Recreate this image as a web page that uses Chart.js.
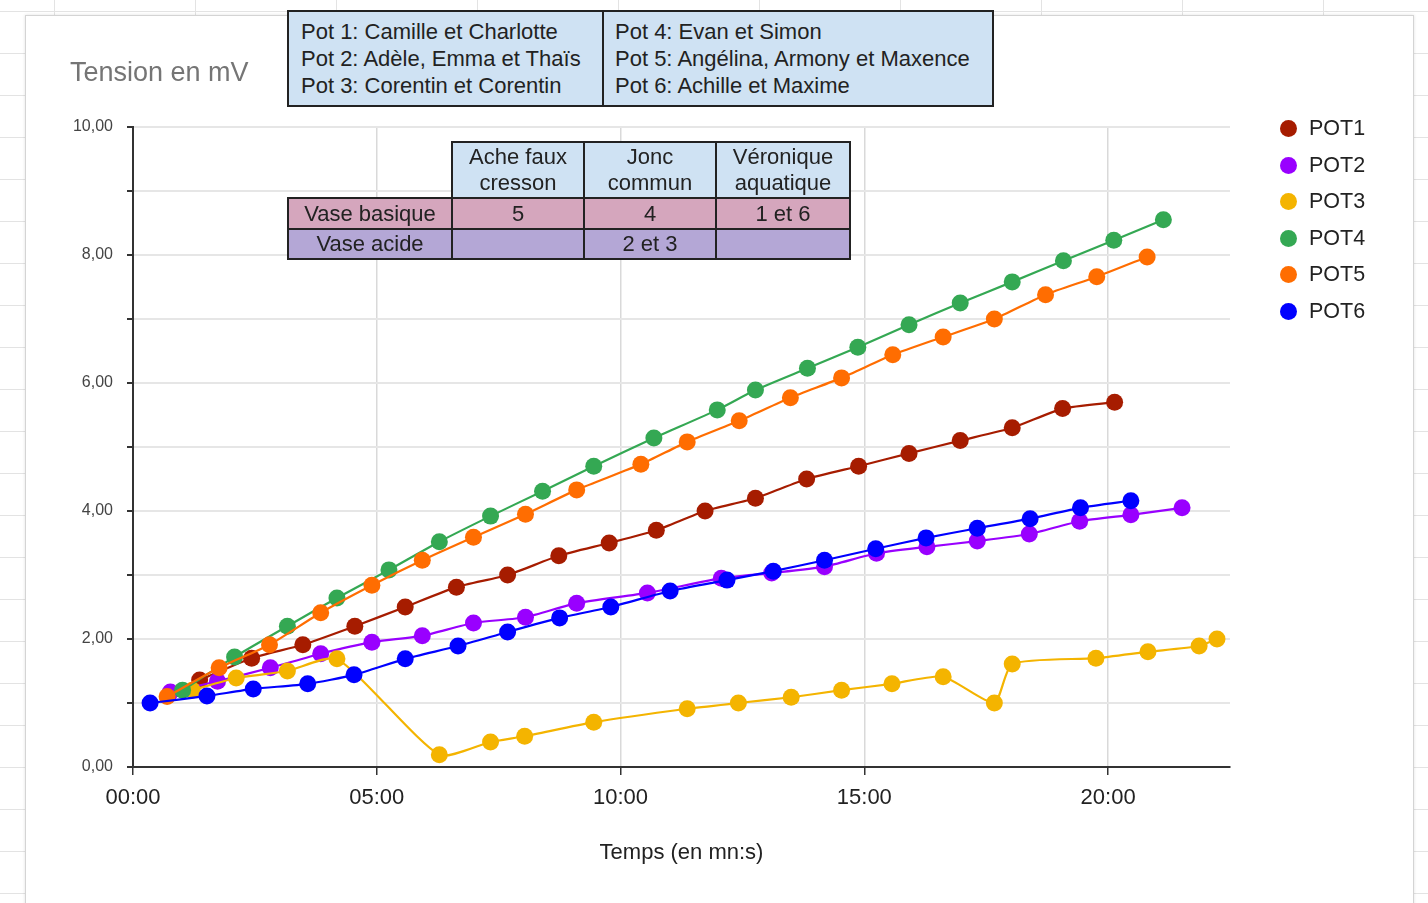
<!DOCTYPE html>
<html lang="fr">
<head>
<meta charset="UTF-8">
<title>Tension en mV</title>
<script src="https://cdn.jsdelivr.net/npm/chart.js@4.4.1/dist/chart.umd.min.js"></script>
<style>
    body {
        margin: 0;
        width: 1428px;
        height: 903px;
        overflow: hidden;
        position: relative;
        font-family: 'Liberation Sans', Arial, sans-serif;
        color: #222;
        background-color: #fff;
        background-image:
            repeating-linear-gradient(to right, transparent 0 54px, #e3e3e3 54px 55px, transparent 55px 141px),
            repeating-linear-gradient(to bottom, transparent 0 11px, #e3e3e3 11px 12px, transparent 12px 42px);
    }
    #box {
        position: absolute;
        left: 25px;
        top: 15px;
        width: 1387px;
        height: 900px;
        background: #fff;
        border: 1px solid #d4d4d4;
        box-shadow: 0 0 3px rgba(0,0,0,0.12);
    }
    #chart {
        position: absolute;
        left: 0;
        top: 0;
        z-index: 1;
    }
    #yTitle {
        position: absolute;
        left: 70px;
        top: 57px;
        font-size: 27px;
        color: #757575;
        z-index: 2;
    }
    table {
        position: absolute;
        border-collapse: collapse;
        font-size: 22px;
        color: #222;
        z-index: 2;
    }
    #pots {
        left: 287px;
        top: 10px;
        width: 707px;
        height: 97px;
        background: #cfe2f3;
        border: 2px solid #222;
    }
    #pots td {
        vertical-align: middle;
        line-height: 27px;
        padding: 0 0 0 12px;
        white-space: nowrap;
    }
    #pots td + td {
        border-left: 2px solid #222;
        padding-left: 11px;
    }
    #vases {
        left: 287px;
        top: 141px;
    }
    #vases td {
        border: 2px solid #222;
        text-align: center;
        padding: 0;
    }
    #vases tr.head td { height: 54px; line-height: 26px; background: #cfe2f3; }
    #vases tr.head td.blank { border: none; border-bottom: 2px solid #222; background: transparent; }
    #vases tr.basique td { height: 29px; line-height: 29px; background: #d5a6bd; }
    #vases tr.acide td { height: 28px; line-height: 28px; background: #b4a7d6; }
    #legend {
        position: absolute;
        left: 1280px;
        top: 110px;
        z-index: 2;
        font-size: 21.5px;
    }
    #legend div {
        height: 36.6px;
        line-height: 36.6px;
        white-space: nowrap;
    }
    #legend span {
        display: inline-block;
        width: 17px;
        height: 17px;
        border-radius: 50%;
        vertical-align: -2px;
        margin-right: 12px;
    }
</style>
</head>
<body>
<div id="box"></div>
<canvas id="chart" width="1428" height="903"></canvas>
<div id="yTitle">Tension en mV</div>

<table id="pots">
    <tr>
        <td style="width:301px">Pot 1: Camille et Charlotte<br>Pot 2: Adèle, Emma et Thaïs<br>Pot 3: Corentin et Corentin</td>
        <td>Pot 4: Evan et Simon<br>Pot 5: Angélina, Armony et Maxence<br>Pot 6: Achille et Maxime</td>
    </tr>
</table>

<table id="vases">
    <tr class="head">
        <td class="blank" style="width:163px"></td>
        <td style="width:130px">Ache faux<br>cresson</td>
        <td style="width:130px">Jonc<br>commun</td>
        <td style="width:132px">Véronique<br>aquatique</td>
    </tr>
    <tr class="basique">
        <td>Vase basique</td><td>5</td><td>4</td><td>1 et 6</td>
    </tr>
    <tr class="acide">
        <td>Vase acide</td><td></td><td>2 et 3</td><td></td>
    </tr>
</table>

<div id="legend"></div>

<script>
// temps en secondes, tension en mV
const pot1Time = [82, 146, 209, 273, 335, 398, 461, 524, 586, 644, 704, 766, 829, 893, 955, 1018, 1082, 1144, 1208];
const pot1Val  = [1.36, 1.70, 1.91, 2.20, 2.50, 2.81, 3.00, 3.30, 3.50, 3.70, 4.00, 4.20, 4.50, 4.70, 4.90, 5.10, 5.30, 5.60, 5.70];

const pot2Time = [46, 104, 169, 231, 294, 356, 419, 483, 546, 633, 724, 786, 851, 915, 977, 1039, 1103, 1165, 1228, 1291];
const pot2Val  = [1.17, 1.34, 1.55, 1.77, 1.95, 2.05, 2.25, 2.34, 2.56, 2.72, 2.95, 3.03, 3.13, 3.34, 3.44, 3.53, 3.64, 3.84, 3.94, 4.05];

const pot3Time = [73, 127, 190, 251, 377, 440, 482, 567, 682, 745, 810, 872, 934, 997, 1060, 1082, 1185, 1249, 1312, 1334];
const pot3Val  = [1.20, 1.39, 1.50, 1.69, 0.19, 0.39, 0.48, 0.70, 0.91, 1.00, 1.09, 1.20, 1.30, 1.41, 1.00, 1.61, 1.70, 1.80, 1.89, 2.00];

const pot4Time = [61, 125, 190, 251, 315, 377, 440, 504, 567, 641, 719, 766, 830, 892, 955, 1018, 1082, 1145, 1207, 1268];
const pot4Val  = [1.20, 1.72, 2.20, 2.64, 3.08, 3.52, 3.92, 4.31, 4.70, 5.14, 5.58, 5.89, 6.23, 6.56, 6.91, 7.25, 7.58, 7.91, 8.23, 8.55];

const pot5Time = [42, 106, 168, 231, 294, 356, 419, 483, 546, 625, 682, 746, 809, 872, 935, 997, 1060, 1123, 1186, 1248];
const pot5Val  = [1.10, 1.55, 1.91, 2.41, 2.84, 3.23, 3.59, 3.95, 4.33, 4.73, 5.08, 5.41, 5.77, 6.08, 6.44, 6.72, 7.00, 7.38, 7.66, 7.97];

const pot6Time = [21, 91, 148, 215, 272, 335, 400, 461, 525, 588, 661, 731, 788, 851, 914, 976, 1039, 1104, 1166, 1228];
const pot6Val  = [1.00, 1.11, 1.22, 1.30, 1.44, 1.69, 1.89, 2.11, 2.33, 2.50, 2.75, 2.92, 3.06, 3.23, 3.41, 3.58, 3.73, 3.88, 4.05, 4.16];

const seriesNames  = ['POT1', 'POT2', 'POT3', 'POT4', 'POT5', 'POT6'];
const seriesColors = ['#a61c00', '#9900ff', '#f4b400', '#34a853', '#ff6d01', '#0000ff'];
const xTickStep = 300;   // 05:00
const yTickStep = 1;

const times  = [pot1Time, pot2Time, pot3Time, pot4Time, pot5Time, pot6Time];
const values = [pot1Val, pot2Val, pot3Val, pot4Val, pot5Val, pot6Val];

function mmss(sec) {
    const m = Math.floor(sec / 60);
    const s = Math.round(sec % 60);
    return String(m).padStart(2, '0') + ':' + String(s).padStart(2, '0');
}

const datasets = seriesNames.map((name, i) => ({
    label: name,
    data: times[i].map((t, j) => ({ x: t, y: values[i][j] })),
    borderColor: seriesColors[i],
    backgroundColor: seriesColors[i],
    pointBackgroundColor: seriesColors[i],
    pointBorderWidth: 0,
    pointRadius: 8.5,
    borderWidth: 2.2,
    tension: 0.2,
    order: seriesNames.length - i   // POT6 dessiné au-dessus
}));

// légende html
const legend = document.getElementById('legend');
seriesNames.forEach((name, i) => {
    const row = document.createElement('div');
    row.innerHTML = '<span style="background:' + seriesColors[i] + '"></span>' + name;
    legend.appendChild(row);
});

const fontFam = "'Liberation Sans', Arial, sans-serif";

new Chart(document.getElementById('chart'), {
    type: 'line',
    data: { datasets: datasets },
    options: {
        responsive: false,
        animation: false,
        layout: { padding: { left: 0, right: 198, top: 127, bottom: 0 } },
        plugins: {
            legend: { display: false },
            tooltip: { enabled: false }
        },
        scales: {
            x: {
                type: 'linear',
                min: 0,
                max: 1350,
                afterFit: scale => { scale.height = 136; },
                ticks: {
                    stepSize: xTickStep,
                    includeBounds: false,
                    padding: 10,
                    color: '#222',
                    font: { family: fontFam, size: 22 },
                    callback: v => mmss(v)
                },
                grid: { color: '#d9d9d9', lineWidth: 1.5, tickLength: 8, tickColor: '#333' },
                border: { color: '#333', width: 2 },
                title: {
                    display: true,
                    text: 'Temps (en mn:s)',
                    color: '#222',
                    font: { family: fontFam, size: 22 },
                    padding: { top: 0, bottom: 37 }
                }
            },
            y: {
                min: 0,
                max: 10,
                afterFit: scale => { scale.width = 133; },
                ticks: {
                    stepSize: yTickStep,
                    padding: 14,
                    color: '#444',
                    font: { family: fontFam, size: 16 },
                    callback: v => (v % 2 === 0 ? v.toFixed(2).replace('.', ',') : '')
                },
                grid: { color: '#e6e6e6', lineWidth: 2, tickLength: 6, tickColor: '#333' },
                border: { color: '#333', width: 2 }
            }
        }
    }
});
</script>
</body>
</html>
